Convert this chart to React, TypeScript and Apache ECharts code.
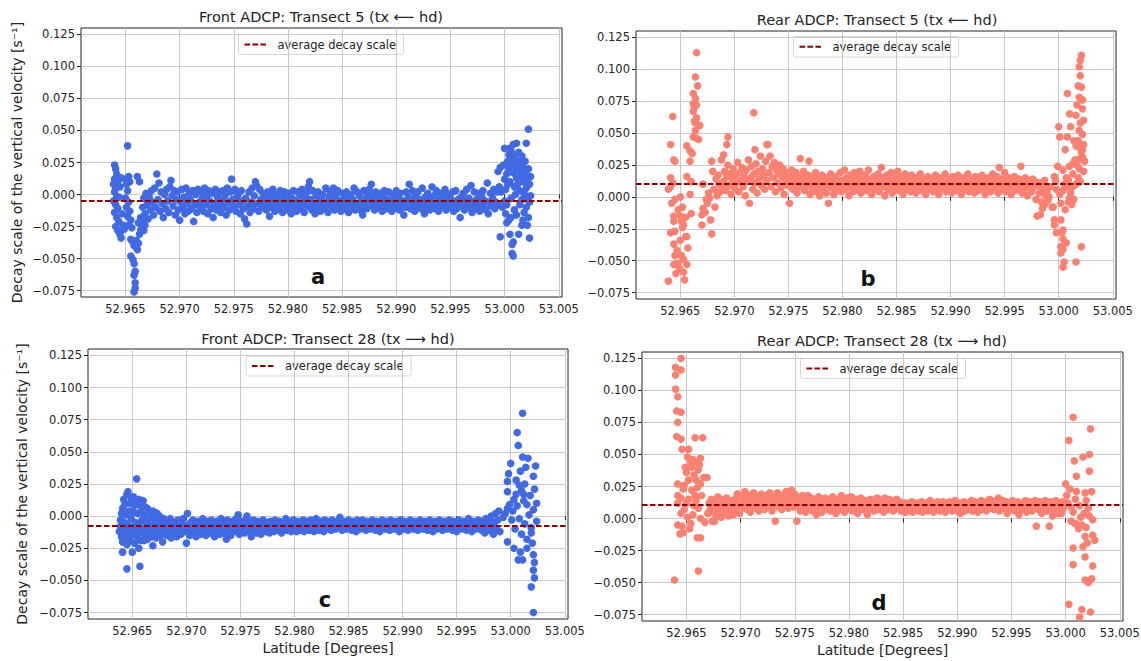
import React, { useEffect, useRef } from "react";
import * as echarts from "echarts";

const FONT = "DejaVu Sans";
const X_MIN = 52.9609;
const X_MAX = 53.0053;
const Y_MIN = -0.08;
const Y_MAX = 0.13;
const xTicks = [52.965, 52.97, 52.975, 52.98, 52.985, 52.99, 52.995, 53.0, 53.005];
const yTicks = [-0.075, -0.05, -0.025, 0, 0.025, 0.05, 0.075, 0.1, 0.125];

const titles = [
  "Front ADCP: Transect 5 (tx \u27F5 hd)",
  "Rear ADCP: Transect 5 (tx \u27F5 hd)",
  "Front ADCP: Transect 28 (tx \u27F6 hd)",
  "Rear ADCP: Transect 28 (tx \u27F6 hd)",
];
const panelLetters = ["a", "b", "c", "d"];
const averages = [-0.005, 0.0104, -0.0076, 0.0108];
const legendLabel = "average decay scale";
const yName = "Decay scale of the vertical velocity [s\u207B\u00B9]";
const xName = "Latitude [Degrees]";

// Panel a: Front ADCP, transect 5
const frontT5 = [
  [52.9640,0.023],[52.9641,0.020],[52.9642,0.016],[52.9640,0.012],[52.9639,0.008],[52.9641,0.005],[52.9643,0.010],[52.9640,0.002],[52.9642,-0.002],[52.9639,-0.005],[52.9641,-0.008],[52.9643,-0.011],[52.9640,-0.014],[52.9642,-0.018],[52.9644,-0.021],[52.9641,-0.025],[52.9643,-0.028],[52.9645,-0.031],[52.9646,-0.034],[52.9644,-0.002],[52.9645,0.006],[52.9646,0.013],[52.9647,-0.015],[52.9648,-0.024],
  [52.9652,0.038],[52.9650,0.012],[52.9651,0.008],[52.9653,0.014],[52.9654,0.010],[52.9652,0.003],[52.9650,-0.003],[52.9653,-0.006],[52.9651,-0.010],[52.9654,-0.013],[52.9652,-0.017],[52.9655,-0.020],[52.9653,-0.024],[52.9649,-0.027],[52.9656,-0.026],
  [52.9655,-0.035],[52.9657,-0.037],[52.9658,-0.040],[52.9655,-0.048],[52.9657,-0.051],[52.9658,-0.054],[52.9659,-0.060],[52.9658,-0.063],[52.9659,-0.069],[52.9659,-0.073],[52.9658,-0.076],
  [52.9660,-0.036],[52.9661,-0.043],[52.9662,-0.038],[52.9663,-0.031],[52.9664,-0.028],[52.9662,-0.022],[52.9663,0.010],[52.9661,0.014],[52.9664,-0.018],[52.9665,-0.024],[52.9666,-0.020],[52.9667,-0.028],[52.9668,-0.024],
  [52.9666,-0.010],[52.9667,-0.003],[52.9668,-0.015],[52.9669,0.001],[52.9670,-0.008],[52.9671,-0.019],[52.9672,-0.002],[52.9673,-0.012],[52.9674,0.003],[52.9675,-0.006],[52.9676,-0.016],[52.9677,0.005],[52.9678,-0.010],[52.9679,0.016],[52.9680,-0.004],[52.9681,0.009],[52.9682,-0.013],[52.9683,0.002],[52.9684,-0.007],[52.9685,-0.018],[52.9686,0.000],[52.9687,-0.011],[52.9688,0.004],[52.9689,-0.005],[52.9690,-0.014],[52.9691,0.006],[52.9692,0.011],[52.9693,-0.001],[52.9694,-0.009],[52.9695,0.003],[52.9696,-0.016],[52.9697,-0.004],[52.9698,0.002],[52.9699,-0.012],
  [52.9700,-0.020],[52.9701,-0.006],[52.9702,0.004],[52.9703,-0.010],[52.9704,-0.002],[52.9705,-0.015],[52.9706,0.005],[52.9707,-0.007],[52.9708,-0.013],[52.9709,0.001],[52.9710,-0.004],[52.9711,-0.011],[52.9712,0.003],[52.9713,-0.021],[52.9714,-0.008],[52.9715,0.000],[52.9716,-0.014],[52.9717,0.004],[52.9718,-0.006],[52.9719,-0.010],[52.9720,0.002],[52.9721,-0.003],[52.9722,-0.013],[52.9723,0.005],[52.9724,-0.008],[52.9725,-0.001],[52.9726,-0.015],[52.9727,0.003],[52.9728,-0.005],[52.9729,-0.011],[52.9730,0.001],[52.9731,-0.018],[52.9732,-0.007],[52.9733,0.004],[52.9734,-0.012],[52.9735,-0.002],[52.9736,-0.009],[52.9737,0.002],[52.9738,-0.014],[52.9739,-0.005],[52.9740,0.003],[52.9741,-0.010],[52.9742,-0.001],[52.9743,-0.016],[52.9744,0.005],[52.9745,-0.006],[52.9746,-0.012],[52.9747,0.002],[52.9748,0.012],[52.9749,-0.004],
  [52.9750,-0.009],[52.9751,0.004],[52.9752,-0.013],[52.9753,-0.002],[52.9754,0.000],[52.9755,-0.008],[52.9756,-0.015],[52.9757,0.003],[52.9758,-0.005],[52.9759,-0.011],[52.9760,-0.019],[52.9761,-0.003],[52.9762,-0.023],[52.9763,-0.009],[52.9764,0.002],[52.9765,-0.014],[52.9766,-0.006],[52.9767,0.005],[52.9768,-0.011],[52.9769,-0.001],[52.9770,0.010],[52.9771,0.007],[52.9772,-0.007],[52.9773,-0.013],[52.9774,0.004],[52.9775,-0.004],[52.9776,-0.010],[52.9777,0.001],[52.9778,-0.008],[52.9779,-0.003],[52.9780,-0.012],[52.9781,0.002],[52.9782,-0.006],[52.9783,-0.017],[52.9784,-0.001],[52.9785,-0.010],[52.9786,0.004],[52.9787,-0.005],[52.9788,-0.013],[52.9789,0.000],[52.9790,-0.008],[52.9791,-0.003],[52.9792,-0.011],[52.9793,0.003],[52.9794,-0.006],[52.9795,-0.014],[52.9796,-0.002],[52.9797,0.002],[52.9798,-0.009],[52.9799,-0.004],
  [52.9800,-0.012],[52.9801,0.001],[52.9802,-0.007],[52.9803,-0.015],[52.9804,-0.003],[52.9805,0.003],[52.9806,-0.010],[52.9807,-0.005],[52.9808,-0.013],[52.9809,0.002],[52.9810,-0.008],[52.9811,-0.001],[52.9812,-0.011],[52.9813,0.004],[52.9814,-0.006],[52.9815,-0.014],[52.9816,-0.002],[52.9817,0.001],[52.9818,-0.009],[52.9819,0.006],[52.9820,0.010],[52.9821,-0.004],[52.9822,-0.012],[52.9823,0.003],[52.9824,-0.007],[52.9825,-0.015],[52.9826,-0.001],[52.9827,-0.010],[52.9828,0.002],[52.9829,-0.005],[52.9830,-0.013],[52.9831,-0.003],[52.9832,0.000],[52.9833,-0.008],[52.9834,-0.011],[52.9835,0.005],[52.9836,-0.006],[52.9837,-0.014],[52.9838,-0.002],[52.9839,0.002],[52.9840,-0.009],[52.9841,-0.004],[52.9842,0.005],[52.9843,-0.012],[52.9844,-0.001],[52.9845,-0.007],[52.9846,0.003],[52.9847,-0.010],[52.9848,-0.005],[52.9849,-0.013],
  [52.9850,0.001],[52.9851,-0.008],[52.9852,-0.003],[52.9853,-0.011],[52.9854,0.002],[52.9855,-0.006],[52.9856,-0.014],[52.9857,-0.002],[52.9858,0.000],[52.9859,-0.009],[52.9860,-0.004],[52.9861,0.005],[52.9862,-0.012],[52.9863,-0.007],[52.9864,0.002],[52.9865,-0.010],[52.9866,-0.001],[52.9867,-0.006],[52.9868,-0.013],[52.9869,-0.016],[52.9870,0.003],[52.9871,-0.008],[52.9872,-0.003],[52.9873,-0.011],[52.9874,0.001],[52.9875,0.004],[52.9876,-0.005],[52.9877,0.008],[52.9878,-0.009],[52.9879,-0.002],[52.9880,-0.012],[52.9881,0.002],[52.9882,-0.007],[52.9883,-0.004],[52.9884,-0.010],[52.9885,0.001],[52.9886,-0.006],[52.9887,-0.013],[52.9888,-0.002],[52.9889,0.003],[52.9890,-0.008],[52.9891,-0.011],[52.9892,-0.004],[52.9893,0.002],[52.9894,-0.009],[52.9895,-0.006],[52.9896,-0.013],[52.9897,0.000],[52.9898,-0.005],[52.9899,-0.010],
  [52.9900,0.003],[52.9901,-0.007],[52.9902,-0.003],[52.9903,-0.012],[52.9904,0.001],[52.9905,-0.008],[52.9906,-0.005],[52.9907,-0.016],[52.9908,-0.010],[52.9909,0.002],[52.9910,-0.006],[52.9911,-0.002],[52.9912,0.008],[52.9913,-0.011],[52.9914,-0.004],[52.9915,0.003],[52.9916,-0.008],[52.9917,-0.013],[52.9918,-0.001],[52.9919,-0.006],[52.9920,0.002],[52.9921,-0.009],[52.9922,-0.004],[52.9923,-0.011],[52.9924,0.005],[52.9925,-0.007],[52.9926,-0.015],[52.9927,-0.002],[52.9928,-0.010],[52.9929,0.001],[52.9930,-0.005],[52.9931,-0.012],[52.9932,-0.003],[52.9933,0.006],[52.9934,-0.008],[52.9935,-0.001],[52.9936,-0.011],[52.9937,0.003],[52.9938,-0.006],[52.9939,-0.013],[52.9940,-0.004],[52.9941,0.001],[52.9942,-0.009],[52.9943,-0.002],[52.9944,-0.007],[52.9945,0.004],[52.9946,-0.012],[52.9947,-0.005],[52.9948,0.000],[52.9949,-0.010],
  [52.9950,-0.003],[52.9951,-0.008],[52.9952,0.002],[52.9953,-0.013],[52.9954,-0.006],[52.9955,0.003],[52.9956,-0.011],[52.9957,-0.004],[52.9958,-0.009],[52.9959,-0.018],[52.9960,-0.002],[52.9961,-0.007],[52.9962,0.001],[52.9963,-0.012],[52.9964,-0.005],[52.9965,0.004],[52.9966,-0.010],[52.9967,-0.003],[52.9968,-0.008],[52.9969,0.007],[52.9970,-0.014],[52.9971,-0.006],[52.9972,0.002],[52.9973,-0.011],[52.9974,-0.004],[52.9975,-0.009],[52.9976,0.001],[52.9977,-0.013],[52.9978,-0.007],[52.9979,-0.002],[52.9980,0.003],[52.9981,-0.010],[52.9982,-0.005],[52.9983,-0.012],[52.9984,0.009],[52.9985,-0.015],[52.9986,-0.006],[52.9987,0.001],[52.9988,-0.009],[52.9989,-0.003],[52.9990,0.004],[52.9991,-0.011],[52.9992,-0.006],[52.9993,0.002],[52.9994,-0.008],[52.9995,0.006],
  [52.9994,0.018],[52.9996,0.021],[52.9999,0.023],[53.0000,0.012],[53.0001,0.004],[53.0002,-0.008],[53.0002,0.016],[53.0003,0.026],[53.0004,0.020],[53.0005,0.036],[53.0005,0.010],[53.0006,-0.003],[53.0006,0.024],[53.0007,0.028],[53.0007,-0.046],[53.0008,0.039],[53.0008,-0.037],[53.0008,-0.048],[53.0008,0.017],[53.0009,0.006],[53.0009,-0.012],[53.0010,0.022],[53.0010,0.000],[53.0011,0.013],[53.0011,-0.016],[53.0012,0.026],[53.0012,0.008],[53.0013,-0.031],[53.0013,0.019],[53.0014,0.003],[53.0014,-0.008],[53.0015,0.024],[53.0015,0.014],[53.0016,0.030],[53.0016,-0.024],[53.0016,-0.004],[53.0017,0.010],[53.0017,0.021],[53.0018,0.001],[53.0018,-0.014],[53.0019,0.017],[53.0019,0.026],[53.0020,0.040],[53.0020,0.005],[53.0020,-0.010],[53.0021,0.012],[53.0021,-0.002],[53.0022,0.051],[53.0022,-0.018],[53.0022,0.020],[53.0023,-0.034],[53.0023,-0.006],[53.0023,0.008],[53.0024,-0.001],[52.9996,-0.033],[53.0002,-0.022],[53.0005,-0.031],[53.0007,-0.039],[53.0004,-0.020],[52.9998,-0.010],[53.0000,-0.005],[53.0003,0.008],[53.0006,-0.018],[53.0009,0.030],[53.0004,0.031],[53.0013,0.033],[53.0017,-0.020],[53.0021,-0.024],[53.0024,0.014],[53.0000,0.036],[53.0006,0.034],[53.0011,0.040],[52.9997,0.002],[53.0001,-0.015],
];

// Panel b: Rear ADCP, transect 5
const rearT5 = [
  [52.9665,0.113],[52.9664,0.094],[52.9666,0.087],[52.9662,0.081],[52.9664,0.077],[52.9662,0.073],[52.9665,0.072],[52.9663,0.070],[52.9665,0.062],[52.9664,0.058],[52.9668,0.056],[52.9643,0.063],[52.9718,0.066],[52.9662,0.047],[52.9667,0.045],[52.9665,0.046],[52.9641,0.041],[52.9656,0.040],[52.9659,0.036],[52.9661,0.034],[52.9659,0.028],[52.9644,0.029],[52.9645,0.028],[52.9679,0.028],[52.9694,0.047],[52.9693,0.041],[52.9719,0.037],[52.9730,0.041],[52.9641,0.015],[52.9643,0.011],[52.9639,0.006],[52.9641,0.008],[52.9656,0.016],[52.9660,0.012],[52.9671,0.010],[52.9659,0.002],[52.9642,-0.005],[52.9645,-0.002],[52.9650,0.000],[52.9644,-0.015],[52.9644,-0.019],[52.9648,-0.010],[52.9650,-0.015],[52.9651,-0.019],[52.9655,-0.016],[52.9653,-0.022],[52.9660,-0.013],[52.9641,-0.028],[52.9645,-0.027],[52.9644,-0.037],[52.9655,-0.031],[52.9656,-0.031],[52.9657,-0.040],[52.9645,-0.046],[52.9651,-0.046],[52.9653,-0.049],[52.9644,-0.053],[52.9648,-0.052],[52.9656,-0.053],[52.9646,-0.060],[52.9653,-0.059],[52.9639,-0.066],[52.9654,-0.065],[52.9670,-0.022],[52.9679,-0.029],[52.9670,-0.014],[52.9671,-0.009],[52.9675,-0.005],[52.9677,-0.001],[52.9676,0.003],[52.9681,0.006],[52.9684,0.001],[52.9687,0.004],[52.9689,0.008],[52.9688,0.029],[52.9690,0.033],[52.9652,-0.024],[52.9650,-0.034],[52.9647,-0.042],[52.9649,-0.056],[52.9652,-0.008],[52.9673,-0.012],[52.9678,-0.018],[52.9682,-0.008],[52.9674,-0.002],[52.9686,0.010],[52.9683,0.014],[52.9680,0.020],[52.9685,0.017],[52.9662,0.067],[52.9663,0.059],[52.9664,0.052],
  [52.9690,0.012],[52.9691,0.020],[52.9692,0.005],[52.9693,0.016],[52.9694,0.025],[52.9695,0.009],[52.9696,0.018],[52.9697,0.002],[52.9698,0.014],[52.9699,0.022],[52.9700,0.007],[52.9701,0.017],[52.9702,0.011],[52.9703,0.027],[52.9704,0.004],[52.9705,0.019],[52.9706,0.013],[52.9707,0.023],[52.9708,0.008],[52.9709,0.016],[52.9710,0.001],[52.9711,0.021],[52.9712,0.012],[52.9713,0.029],[52.9714,-0.005],[52.9715,0.015],[52.9716,0.024],[52.9717,0.006],[52.9718,0.018],[52.9719,0.011],[52.9720,0.026],[52.9721,0.003],[52.9722,0.020],[52.9723,0.014],[52.9724,0.032],[52.9725,0.009],[52.9726,0.022],[52.9727,0.017],[52.9728,0.006],[52.9729,0.028],[52.9730,0.013],[52.9731,0.041],[52.9732,0.019],[52.9733,0.032],[52.9734,0.008],[52.9735,0.024],[52.9736,0.015],[52.9737,0.027],[52.9738,0.004],[52.9739,0.021],
  [52.9740,0.011],[52.9741,0.018],[52.9742,0.025],[52.9743,0.007],[52.9744,0.016],[52.9745,0.022],[52.9746,0.002],[52.9747,0.013],[52.9748,0.019],[52.9749,0.009],[52.9750,0.017],[52.9751,-0.005],[52.9752,0.012],[52.9753,0.021],[52.9754,0.006],[52.9755,0.015],[52.9756,0.010],[52.9757,0.019],[52.9758,0.003],[52.9759,0.014],[52.9760,0.008],[52.9761,0.030],[52.9762,0.016],[52.9763,0.011],[52.9764,0.020],[52.9765,0.005],[52.9766,0.013],[52.9767,0.009],[52.9768,0.017],[52.9769,0.028],[52.9770,0.002],[52.9771,0.012],[52.9772,0.007],[52.9773,0.016],[52.9774,0.010],[52.9775,0.019],[52.9776,0.004],[52.9777,0.014],[52.9778,0.008],[52.9779,0.001],[52.9780,0.013],[52.9781,0.017],[52.9782,0.006],[52.9783,0.011],[52.9784,0.015],[52.9785,0.003],[52.9786,0.009],[52.9787,-0.005],[52.9788,0.012],[52.9789,0.018],
  [52.9790,0.007],[52.9791,0.014],[52.9792,0.002],[52.9793,0.010],[52.9794,0.016],[52.9795,0.005],[52.9796,0.012],[52.9797,0.008],[52.9798,0.019],[52.9799,0.004],[52.9800,0.013],[52.9801,0.009],[52.9802,0.021],[52.9803,0.006],[52.9804,0.015],[52.9805,0.011],[52.9806,0.001],[52.9807,0.017],[52.9808,0.008],[52.9809,0.013],[52.9810,0.004],[52.9811,0.019],[52.9812,0.010],[52.9813,0.006],[52.9814,0.015],[52.9815,0.011],[52.9816,0.020],[52.9817,0.003],[52.9818,0.014],[52.9819,0.008],[52.9820,0.012],[52.9821,0.017],[52.9822,0.005],[52.9823,0.010],[52.9824,0.021],[52.9825,0.007],[52.9826,0.014],[52.9827,0.002],[52.9828,0.011],[52.9829,0.016],[52.9830,0.006],[52.9831,0.013],[52.9832,0.009],[52.9833,0.018],[52.9834,0.004],[52.9835,0.012],[52.9836,0.023],[52.9837,0.008],[52.9838,0.015],[52.9839,0.001],
  [52.9840,0.011],[52.9841,0.017],[52.9842,0.006],[52.9843,0.013],[52.9844,0.009],[52.9845,0.019],[52.9846,0.003],[52.9847,0.012],[52.9848,0.007],[52.9849,0.015],[52.9850,0.010],[52.9851,0.020],[52.9852,0.005],[52.9853,0.013],[52.9854,0.008],[52.9855,0.016],[52.9856,0.002],[52.9857,0.011],[52.9858,0.018],[52.9859,0.006],[52.9860,0.014],[52.9861,0.009],[52.9862,0.012],[52.9863,0.004],[52.9864,0.017],[52.9865,0.008],[52.9866,0.013],[52.9867,0.010],[52.9868,0.003],[52.9869,0.015],[52.9870,0.007],[52.9871,0.012],[52.9872,0.018],[52.9873,0.005],[52.9874,0.011],[52.9875,0.009],[52.9876,0.014],[52.9877,0.002],[52.9878,0.010],[52.9879,0.016],[52.9880,0.006],[52.9881,0.012],[52.9882,0.008],[52.9883,0.014],[52.9884,0.004],[52.9885,0.011],[52.9886,0.017],[52.9887,0.007],[52.9888,0.013],[52.9889,0.002],
  [52.9890,0.010],[52.9891,0.015],[52.9892,0.006],[52.9893,0.012],[52.9894,0.009],[52.9895,0.018],[52.9896,0.004],[52.9897,0.011],[52.9898,0.007],[52.9899,0.014],[52.9900,0.010],[52.9901,0.003],[52.9902,0.016],[52.9903,0.008],[52.9904,0.012],[52.9905,0.005],[52.9906,0.011],[52.9907,0.017],[52.9908,0.007],[52.9909,0.013],[52.9910,0.002],[52.9911,0.010],[52.9912,0.015],[52.9913,0.006],[52.9914,0.012],[52.9915,0.009],[52.9916,0.018],[52.9917,0.004],[52.9918,0.011],[52.9919,0.007],[52.9920,0.014],[52.9921,0.010],[52.9922,0.003],[52.9923,0.016],[52.9924,0.008],[52.9925,0.012],[52.9926,0.005],[52.9927,0.014],[52.9928,0.009],[52.9929,0.017],[52.9930,0.006],[52.9931,0.011],[52.9932,0.002],[52.9933,0.013],[52.9934,0.008],[52.9935,0.015],[52.9936,0.010],[52.9937,0.004],[52.9938,0.012],[52.9939,0.018],
  [52.9940,0.007],[52.9941,0.013],[52.9942,0.009],[52.9943,0.016],[52.9944,0.003],[52.9945,0.023],[52.9946,0.011],[52.9947,0.006],[52.9948,0.014],[52.9949,0.009],[52.9950,0.019],[52.9951,0.004],[52.9952,0.012],[52.9953,0.007],[52.9954,0.015],[52.9955,0.010],[52.9956,0.002],[52.9957,0.013],[52.9958,0.008],[52.9959,0.016],[52.9960,0.005],[52.9961,0.011],[52.9962,0.007],[52.9963,0.014],[52.9964,0.009],[52.9965,0.024],[52.9966,0.003],[52.9967,0.012],[52.9968,0.006],[52.9969,0.015],[52.9970,0.010],[52.9971,0.001],[52.9972,0.013],[52.9973,0.007],[52.9974,0.011],[52.9975,0.004],[52.9976,0.014],[52.9977,0.008],[52.9978,0.012],[52.9979,-0.002],[52.9980,-0.015],[52.9981,0.009],[52.9982,0.003],[52.9983,0.011],[52.9984,-0.004],[52.9985,-0.009],[52.9986,0.006],[52.9987,0.013],[52.9988,0.001],[52.9989,0.008],[52.9990,-0.003],
  [53.0021,0.111],[53.0020,0.107],[53.0019,0.102],[53.0018,0.087],[53.0021,0.086],[53.0008,0.081],[53.0019,0.078],[53.0022,0.076],[53.0022,0.069],[53.0010,0.065],[53.0016,0.064],[53.0000,0.055],[53.0001,0.047],[53.0011,0.055],[53.0019,0.052],[53.0008,0.047],[53.0014,0.044],[53.0022,0.049],[53.0018,0.044],[53.0023,0.041],[53.0006,0.037],[53.0019,0.039],[53.0021,0.035],[53.0013,0.026],[53.0022,0.031],[53.0015,0.029],[53.0024,0.028],[52.9996,0.016],[53.0004,0.021],[53.0010,0.024],[53.0019,0.022],[52.9999,0.024],[53.0013,0.018],[53.0018,0.015],[53.0009,0.013],[53.0013,0.008],[53.0004,0.005],[53.0011,0.003],[53.0008,0.008],[53.0014,-0.002],[53.0010,-0.001],[53.0012,-0.006],[53.0002,-0.005],[52.9987,-0.006],[52.9983,-0.014],[52.9995,-0.008],[52.9996,-0.018],[52.9996,-0.022],[52.9998,-0.028],[53.0002,-0.018],[53.0004,-0.026],[53.0004,-0.033],[53.0004,-0.041],[53.0002,-0.044],[53.0005,-0.051],[53.0004,-0.055],[53.0016,-0.051],[53.0021,-0.039],[52.9994,-0.008],[53.0003,-0.028],[53.0002,-0.039],[53.0007,-0.036],[53.0020,0.095],[53.0017,0.072],[53.0023,0.060],[53.0020,0.058],[53.0016,0.040],[53.0022,0.037],[53.0020,0.030],[53.0017,0.025],[53.0023,0.020],[53.0016,0.010],[53.0020,0.012],[53.0007,0.015],[53.0005,0.010],[52.9998,0.006],[53.0001,0.002],[52.9992,0.008],[52.9997,0.013],[53.0006,-0.010],[53.0009,-0.004],[52.9991,0.000],[52.9989,0.004],
];

// Panel c: Front ADCP, transect 28
const frontT28 = [
  [52.9638,-0.012],[52.9639,-0.008],[52.9639,-0.003],[52.9640,-0.016],[52.9640,0.002],[52.9641,-0.020],[52.9641,0.006],[52.9641,-0.028],[52.9642,0.013],[52.9642,-0.010],[52.9643,-0.005],[52.9643,-0.018],[52.9643,0.009],[52.9644,-0.013],[52.9644,0.001],[52.9645,-0.041],[52.9645,-0.022],[52.9645,0.017],[52.9646,0.019],[52.9646,-0.007],[52.9646,-0.015],[52.9647,0.004],[52.9647,-0.011],[52.9648,0.010],[52.9648,-0.019],[52.9649,-0.002],[52.9649,0.014],[52.9650,-0.028],[52.9650,-0.009],[52.9651,0.015],[52.9651,-0.014],[52.9651,0.003],[52.9652,-0.021],[52.9652,0.008],[52.9653,-0.005],[52.9653,0.011],[52.9654,0.029],[52.9654,-0.012],[52.9655,0.002],[52.9655,-0.017],[52.9656,0.013],[52.9656,-0.025],[52.9656,-0.007],[52.9657,0.009],[52.9657,-0.039],[52.9657,-0.013],[52.9658,0.004],[52.9658,-0.019],[52.9659,-0.003],[52.9659,0.010],[52.9660,0.012],[52.9660,-0.010],[52.9661,-0.019],[52.9661,0.001],[52.9662,-0.015],[52.9662,0.007],[52.9663,-0.006],[52.9663,-0.012],[52.9664,0.006],[52.9664,-0.018],[52.9665,-0.002],[52.9665,-0.010],[52.9666,0.004],[52.9666,-0.014],[52.9667,-0.007],[52.9668,-0.016],[52.9668,0.002],[52.9669,-0.023],[52.9669,0.004],[52.9670,-0.009],[52.9670,-0.002],[52.9671,-0.013],[52.9671,0.003],[52.9672,-0.017],[52.9673,-0.005],[52.9673,0.002],[52.9674,-0.011],[52.9675,-0.015],[52.9675,0.000],[52.9676,-0.008],[52.9677,-0.003],[52.9677,-0.012],[52.9678,-0.020],[52.9678,-0.006],[52.9679,-0.014],[52.9679,-0.002],
  [52.9680,-0.010],[52.9681,-0.004],[52.9682,-0.015],[52.9683,-0.007],[52.9684,-0.012],[52.9685,-0.002],[52.9686,-0.017],[52.9687,-0.009],[52.9688,-0.005],[52.9689,-0.013],[52.9690,-0.008],[52.9691,-0.016],[52.9692,-0.003],[52.9693,-0.011],[52.9694,-0.006],[52.9695,-0.014],[52.9696,-0.009],[52.9697,-0.002],[52.9698,-0.012],[52.9699,-0.007],[52.9700,-0.021],[52.9701,0.002],[52.9702,-0.010],[52.9703,-0.015],[52.9704,-0.005],[52.9705,-0.011],[52.9706,-0.003],[52.9707,-0.013],[52.9708,-0.008],[52.9709,-0.016],[52.9710,-0.004],[52.9711,-0.010],[52.9712,-0.006],[52.9713,-0.014],[52.9714,-0.009],[52.9715,-0.002],[52.9716,-0.012],[52.9717,-0.007],[52.9718,-0.015],[52.9719,-0.004],[52.9720,-0.011],[52.9721,-0.008],[52.9722,-0.013],[52.9723,-0.003],[52.9724,-0.010],[52.9725,-0.006],[52.9726,-0.016],[52.9727,-0.009],[52.9728,-0.004],[52.9729,-0.012],
  [52.9730,-0.007],[52.9731,-0.014],[52.9732,-0.002],[52.9733,-0.010],[52.9734,-0.005],[52.9735,-0.013],[52.9736,-0.008],[52.9737,-0.018],[52.9738,-0.003],[52.9739,-0.011],[52.9740,-0.006],[52.9741,-0.015],[52.9742,-0.009],[52.9743,-0.004],[52.9744,-0.012],[52.9745,-0.007],[52.9746,-0.002],[52.9747,-0.010],[52.9748,0.001],[52.9749,-0.014],[52.9750,-0.006],[52.9751,-0.011],[52.9752,-0.004],[52.9753,-0.009],[52.9754,-0.013],[52.9755,-0.003],[52.9756,0.000],[52.9757,-0.008],[52.9758,-0.012],[52.9759,-0.005],[52.9760,-0.016],[52.9761,-0.009],[52.9762,-0.003],[52.9763,-0.011],[52.9764,-0.007],[52.9765,-0.013],[52.9766,-0.004],[52.9767,-0.010],[52.9768,-0.006],[52.9769,-0.014],[52.9770,-0.008],[52.9771,-0.003],[52.9772,-0.011],[52.9773,-0.007],[52.9774,-0.012],[52.9775,-0.005],[52.9776,-0.009],[52.9777,-0.013],[52.9778,-0.004],[52.9779,-0.010],
  [52.9780,-0.007],[52.9781,-0.012],[52.9782,-0.003],[52.9783,-0.009],[52.9784,-0.006],[52.9785,-0.011],[52.9786,-0.004],[52.9787,-0.008],[52.9788,-0.013],[52.9789,-0.005],[52.9790,-0.010],[52.9791,-0.007],[52.9792,-0.002],[52.9793,-0.011],[52.9794,-0.006],[52.9795,-0.009],[52.9796,-0.004],[52.9797,-0.012],[52.9798,-0.007],[52.9799,-0.003],[52.9800,-0.010],[52.9801,-0.006],[52.9802,-0.012],[52.9803,-0.004],[52.9804,-0.008],[52.9805,-0.011],[52.9806,-0.005],[52.9807,-0.009],[52.9808,-0.003],[52.9809,-0.012],[52.9810,-0.007],[52.9811,-0.004],[52.9812,-0.010],[52.9813,-0.006],[52.9814,-0.011],[52.9815,-0.003],[52.9816,-0.008],[52.9817,-0.005],[52.9818,-0.012],[52.9819,-0.007],[52.9820,-0.002],[52.9821,-0.009],[52.9822,-0.005],[52.9823,-0.011],[52.9824,-0.004],[52.9825,-0.008],[52.9826,-0.006],[52.9827,-0.012],[52.9828,-0.003],[52.9829,-0.009],
  [52.9830,-0.007],[52.9831,-0.004],[52.9832,-0.010],[52.9833,-0.006],[52.9834,-0.011],[52.9835,-0.003],[52.9836,-0.008],[52.9837,-0.005],[52.9838,-0.010],[52.9839,-0.007],[52.9840,-0.004],[52.9841,-0.009],[52.9842,-0.001],[52.9843,-0.006],[52.9844,-0.011],[52.9845,-0.004],[52.9846,-0.008],[52.9847,-0.005],[52.9848,-0.010],[52.9849,-0.007],[52.9850,-0.003],[52.9851,-0.009],[52.9852,-0.006],[52.9853,-0.011],[52.9854,-0.004],[52.9855,-0.008],[52.9856,-0.006],[52.9857,-0.012],[52.9858,-0.003],[52.9859,-0.009],[52.9860,-0.005],[52.9861,-0.010],[52.9862,-0.007],[52.9863,-0.003],[52.9864,-0.009],[52.9865,-0.006],[52.9866,-0.011],[52.9867,-0.004],[52.9868,-0.008],[52.9869,-0.005],[52.9870,-0.010],[52.9871,-0.007],[52.9872,-0.003],[52.9873,-0.009],[52.9874,-0.006],[52.9875,-0.011],[52.9876,-0.004],[52.9877,-0.008],[52.9878,-0.005],[52.9879,-0.012],
  [52.9880,-0.007],[52.9881,-0.003],[52.9882,-0.009],[52.9883,-0.006],[52.9884,-0.010],[52.9885,-0.004],[52.9886,-0.008],[52.9887,-0.006],[52.9888,-0.011],[52.9889,-0.003],[52.9890,-0.009],[52.9891,-0.005],[52.9892,-0.010],[52.9893,-0.007],[52.9894,-0.004],[52.9895,-0.008],[52.9896,-0.006],[52.9897,-0.012],[52.9898,-0.003],[52.9899,-0.009],[52.9900,-0.006],[52.9901,-0.010],[52.9902,-0.004],[52.9903,-0.008],[52.9904,-0.005],[52.9905,-0.011],[52.9906,-0.007],[52.9907,-0.003],[52.9908,-0.009],[52.9909,-0.006],[52.9910,-0.010],[52.9911,-0.004],[52.9912,-0.008],[52.9913,-0.005],[52.9914,-0.011],[52.9915,-0.007],[52.9916,-0.003],[52.9917,-0.009],[52.9918,-0.006],[52.9919,-0.010],[52.9920,-0.004],[52.9921,-0.008],[52.9922,-0.005],[52.9923,-0.011],[52.9924,-0.007],[52.9925,-0.003],[52.9926,-0.009],[52.9927,-0.006],[52.9928,-0.012],[52.9929,-0.004],
  [52.9930,-0.008],[52.9931,-0.005],[52.9932,-0.010],[52.9933,-0.007],[52.9934,-0.003],[52.9935,-0.009],[52.9936,-0.006],[52.9937,-0.011],[52.9938,-0.004],[52.9939,-0.008],[52.9940,-0.005],[52.9941,-0.010],[52.9942,-0.007],[52.9943,-0.003],[52.9944,-0.009],[52.9945,-0.006],[52.9946,-0.011],[52.9947,-0.004],[52.9948,-0.008],[52.9949,-0.005],[52.9950,-0.012],[52.9951,-0.007],[52.9952,-0.003],[52.9953,-0.009],[52.9954,-0.006],[52.9955,-0.010],[52.9956,-0.004],[52.9957,-0.008],[52.9958,-0.005],[52.9959,-0.011],[52.9960,-0.007],[52.9961,-0.002],[52.9962,-0.009],[52.9963,-0.006],[52.9964,-0.012],[52.9965,-0.004],[52.9966,-0.008],[52.9967,-0.005],[52.9968,-0.010],[52.9969,-0.007],[52.9970,-0.003],[52.9971,-0.009],[52.9972,-0.006],[52.9973,-0.011],[52.9974,-0.004],[52.9975,-0.008],[52.9976,-0.013],[52.9977,-0.002],[52.9978,-0.009],[52.9979,-0.006],
  [52.9980,-0.011],[52.9981,-0.004],[52.9982,0.000],[52.9983,-0.008],[52.9984,-0.014],[52.9985,-0.005],[52.9986,0.002],[52.9987,-0.010],[52.9988,-0.003],[52.9989,0.004],[52.9990,-0.012],
  [53.0011,0.080],[53.0006,0.065],[53.0007,0.055],[53.0000,0.041],[53.0011,0.046],[53.0016,0.045],[52.9998,0.033],[53.0023,0.039],[53.0021,0.031],[52.9997,0.027],[53.0010,0.020],[53.0022,0.021],[52.9997,0.019],[53.0003,0.013],[53.0015,0.009],[53.0021,0.005],[52.9997,0.006],[53.0008,-0.002],[53.0024,-0.004],[52.9997,-0.020],[53.0003,-0.025],[53.0015,-0.025],[53.0007,-0.034],[53.0011,-0.034],[53.0021,-0.030],[53.0022,-0.036],[53.0021,-0.042],[53.0022,-0.048],[53.0019,-0.055],[53.0021,-0.075],[53.0015,-0.018],[53.0019,-0.013],[53.0005,0.028],[53.0009,0.035],[53.0013,0.025],[53.0018,0.016],[53.0002,0.004],[53.0012,0.012],[53.0006,0.008],[53.0017,0.001],[53.0013,-0.006],[53.0019,-0.009],[53.0004,-0.010],[53.0010,-0.014],[53.0001,-0.003],[53.0014,0.038],[53.0008,0.024],[52.9995,0.002],[52.9993,-0.001],[53.0024,0.010],[53.0020,-0.021],[53.0009,-0.028],[53.0012,0.017],[53.0005,0.017],[52.9999,0.009],
];

// Panel d: Rear ADCP, transect 28
const rearT28 = [
  [52.9645,0.125],[52.9640,0.118],[52.9645,0.116],[52.9640,0.112],[52.9640,0.101],[52.9642,0.095],[52.9641,0.084],[52.9645,0.083],[52.9642,0.075],[52.9641,0.064],[52.9645,0.062],[52.9646,0.054],[52.9652,0.054],[52.9658,0.063],[52.9665,0.063],[52.9663,0.047],[52.9660,0.044],[52.9654,0.044],[52.9649,0.040],[52.9666,0.032],[52.9669,0.032],[52.9657,0.034],[52.9663,0.027],[52.9642,0.027],[52.9647,0.023],[52.9664,0.018],[52.9642,0.018],[52.9650,0.012],[52.9642,0.012],[52.9645,0.004],[52.9656,0.003],[52.9642,-0.005],[52.9644,-0.012],[52.9647,-0.011],[52.9654,-0.004],[52.9660,-0.015],[52.9663,-0.015],[52.9661,-0.041],[52.9639,-0.048],[52.9667,-0.003],[52.9670,0.004],[52.9675,0.007],[52.9678,0.010],[52.9681,0.015],[52.9676,-0.002],[52.9693,0.003],[52.9697,0.019],[52.9650,0.036],[52.9655,0.040],[52.9661,0.038],[52.9659,0.030],[52.9652,0.030],[52.9648,0.026],[52.9655,0.022],[52.9660,0.024],[52.9652,0.015],[52.9657,0.010],[52.9661,0.008],[52.9645,0.016],[52.9648,0.007],[52.9651,0.001],[52.9646,-0.006],[52.9658,0.018],[52.9662,0.042],[52.9656,0.046],[52.9651,0.048],[52.9659,0.014],[52.9663,0.000],[52.9653,-0.008],
  [52.9670,0.004],[52.9671,0.012],[52.9672,0.007],[52.9673,0.015],[52.9674,-0.002],[52.9675,0.009],[52.9676,0.013],[52.9677,0.003],[52.9678,0.010],[52.9679,0.017],[52.9680,0.006],[52.9681,0.012],[52.9682,0.001],[52.9683,0.014],[52.9684,0.008],[52.9685,0.011],[52.9686,0.004],[52.9687,0.016],[52.9688,0.009],[52.9689,0.002],[52.9690,0.012],[52.9691,0.007],[52.9692,0.014],[52.9693,0.003],[52.9694,0.010],[52.9695,0.015],[52.9696,0.006],[52.9697,0.019],[52.9698,0.011],[52.9699,0.004],[52.9700,0.013],[52.9701,0.008],[52.9702,0.017],[52.9703,0.010],[52.9704,0.021],[52.9705,0.014],[52.9706,0.007],[52.9707,0.018],[52.9708,0.012],[52.9709,0.005],[52.9710,0.016],[52.9711,0.010],[52.9712,0.020],[52.9713,0.013],[52.9714,0.008],[52.9715,0.017],[52.9716,0.011],[52.9717,0.006],[52.9718,0.015],[52.9719,0.019],
  [52.9720,0.010],[52.9721,0.014],[52.9722,0.007],[52.9723,0.018],[52.9724,0.012],[52.9725,0.016],[52.9726,0.009],[52.9727,0.020],[52.9728,0.013],[52.9729,0.006],[52.9730,0.017],[52.9731,0.011],[52.9732,-0.002],[52.9733,0.015],[52.9734,0.020],[52.9735,0.009],[52.9736,0.013],[52.9737,0.018],[52.9738,0.007],[52.9739,0.012],[52.9740,0.016],[52.9741,0.010],[52.9742,0.021],[52.9743,0.014],[52.9744,0.008],[52.9745,0.017],[52.9746,0.011],[52.9747,0.022],[52.9748,0.015],[52.9749,0.009],[52.9750,0.019],[52.9751,0.013],[52.9752,-0.002],[52.9753,0.010],[52.9754,0.016],[52.9755,0.006],[52.9756,0.012],[52.9757,0.018],[52.9758,0.009],[52.9759,0.014],[52.9760,0.005],[52.9761,0.011],[52.9762,0.018],[52.9763,0.008],[52.9764,0.013],[52.9765,0.016],[52.9766,0.006],[52.9767,0.012],[52.9768,0.009],[52.9769,0.015],
  [52.9770,0.003],[52.9771,0.011],[52.9772,0.017],[52.9773,0.008],[52.9774,0.013],[52.9775,0.005],[52.9776,0.014],[52.9777,0.010],[52.9778,0.016],[52.9779,0.007],[52.9780,0.012],[52.9781,0.009],[52.9782,0.015],[52.9783,0.006],[52.9784,0.011],[52.9785,0.017],[52.9786,0.008],[52.9787,0.013],[52.9788,0.004],[52.9789,0.010],[52.9790,0.015],[52.9791,0.007],[52.9792,0.012],[52.9793,0.018],[52.9794,0.009],[52.9795,0.014],[52.9796,0.005],[52.9797,0.011],[52.9798,0.016],[52.9799,0.008],[52.9800,0.013],[52.9801,0.010],[52.9802,0.017],[52.9803,0.006],[52.9804,0.012],[52.9805,0.008],[52.9806,0.015],[52.9807,0.011],[52.9808,0.004],[52.9809,0.013],[52.9810,0.009],[52.9811,0.016],[52.9812,0.007],[52.9813,0.012],[52.9814,0.010],[52.9815,0.014],[52.9816,0.006],[52.9817,0.003],[52.9818,0.011],[52.9819,0.008],
  [52.9820,0.015],[52.9821,0.010],[52.9822,0.013],[52.9823,0.006],[52.9824,0.012],[52.9825,0.009],[52.9826,0.016],[52.9827,0.007],[52.9828,0.011],[52.9829,0.014],[52.9830,0.008],[52.9831,0.012],[52.9832,0.005],[52.9833,0.016],[52.9834,0.010],[52.9835,0.013],[52.9836,0.007],[52.9837,0.015],[52.9838,0.011],[52.9839,0.009],[52.9840,0.014],[52.9841,0.006],[52.9842,0.012],[52.9843,0.009],[52.9844,0.015],[52.9845,0.008],[52.9846,0.011],[52.9847,0.013],[52.9848,0.006],[52.9849,0.010],[52.9850,0.008],[52.9851,0.012],[52.9852,0.005],[52.9853,0.012],[52.9854,0.009],[52.9855,0.006],[52.9856,0.011],[52.9857,0.008],[52.9858,0.013],[52.9859,0.005],[52.9860,0.010],[52.9861,0.007],[52.9862,0.012],[52.9863,0.009],[52.9864,0.006],[52.9865,0.011],[52.9866,0.008],[52.9867,0.013],[52.9868,0.005],[52.9869,0.010],
  [52.9870,0.007],[52.9871,0.012],[52.9872,0.009],[52.9873,0.006],[52.9874,0.011],[52.9875,0.014],[52.9876,0.008],[52.9877,0.010],[52.9878,0.005],[52.9879,0.012],[52.9880,0.009],[52.9881,0.007],[52.9882,0.013],[52.9883,0.010],[52.9884,0.006],[52.9885,0.011],[52.9886,0.008],[52.9887,0.013],[52.9888,0.010],[52.9889,0.005],[52.9890,0.012],[52.9891,0.009],[52.9892,0.007],[52.9893,0.013],[52.9894,0.010],[52.9895,0.006],[52.9896,0.011],[52.9897,0.008],[52.9898,0.014],[52.9899,0.010],[52.9900,0.006],[52.9901,0.012],[52.9902,0.009],[52.9903,0.004],[52.9904,0.011],[52.9905,0.008],[52.9906,0.013],[52.9907,0.006],[52.9908,0.010],[52.9909,0.012],[52.9910,0.007],[52.9911,0.011],[52.9912,0.009],[52.9913,0.014],[52.9914,0.006],[52.9915,0.010],[52.9916,0.013],[52.9917,0.008],[52.9918,0.011],[52.9919,0.005],
  [52.9920,0.012],[52.9921,0.009],[52.9922,0.014],[52.9923,0.007],[52.9924,0.011],[52.9925,0.010],[52.9926,0.013],[52.9927,0.006],[52.9928,0.012],[52.9929,0.009],[52.9930,0.015],[52.9931,0.008],[52.9932,0.011],[52.9933,0.013],[52.9934,0.007],[52.9935,0.010],[52.9936,0.014],[52.9937,0.009],[52.9938,0.016],[52.9939,0.006],[52.9940,0.012],[52.9941,0.010],[52.9942,0.014],[52.9943,0.008],[52.9944,0.011],[52.9945,0.013],[52.9946,0.004],[52.9947,0.010],[52.9948,0.012],[52.9949,0.007],[52.9950,0.011],[52.9951,0.014],[52.9952,0.009],[52.9953,0.006],[52.9954,0.012],[52.9955,0.010],[52.9956,0.013],[52.9957,0.003],[52.9958,0.009],[52.9959,0.011],[52.9960,0.007],[52.9961,0.012],[52.9962,0.010],[52.9963,0.014],[52.9964,0.005],[52.9965,0.011],[52.9966,0.008],[52.9967,0.013],[52.9968,0.010],[52.9969,0.006],
  [52.9970,0.012],[52.9971,0.009],[52.9972,0.014],[52.9973,-0.006],[52.9974,0.011],[52.9975,0.007],[52.9976,0.013],[52.9977,0.009],[52.9978,0.004],[52.9979,0.012],[52.9980,0.008],[52.9981,0.014],[52.9982,0.010],[52.9983,0.006],[52.9984,0.011],[52.9985,-0.006],[52.9986,0.013],[52.9987,0.008],[52.9988,0.002],[52.9989,0.011],[52.9990,0.006],[52.9991,0.014],[52.9992,0.009],[52.9993,0.004],[52.9994,0.012],[52.9995,0.008],
  [53.0007,0.079],[53.0023,0.070],[53.0003,0.061],[53.0008,0.045],[53.0016,0.048],[53.0022,0.050],[53.0010,0.033],[53.0022,0.037],[53.0000,0.027],[53.0004,0.023],[53.0010,0.021],[53.0018,0.020],[53.0024,0.021],[53.0009,0.015],[53.0019,0.014],[53.0007,0.005],[53.0017,0.004],[53.0025,-0.001],[53.0009,-0.004],[53.0012,-0.008],[53.0019,-0.007],[53.0018,-0.014],[53.0025,-0.013],[53.0027,-0.017],[53.0007,-0.023],[53.0016,-0.022],[53.0018,-0.030],[53.0007,-0.036],[53.0025,-0.037],[53.0018,-0.048],[53.0024,-0.047],[53.0021,-0.050],[53.0003,-0.067],[53.0015,-0.071],[53.0023,-0.073],[53.0013,-0.077],[53.0002,0.012],[53.0005,0.009],[53.0013,0.010],[53.0021,0.008],[53.0014,0.001],[53.0022,0.002],[53.0005,-0.002],[53.0020,-0.019],[53.0015,-0.005],[53.0001,0.018],[52.9998,0.008],[52.9996,0.004],[52.9997,0.013],
];

const panelData = [frontT5, rearT5, frontT28, rearT28];
const panelColors = ["#4169E1", "#FA8072", "#4169E1", "#FA8072"];

// layout (pixels)
const grids = [
  { left: 81, top: 28, width: 481, height: 269 },
  { left: 636, top: 31, width: 480, height: 268 },
  { left: 88, top: 349, width: 480, height: 270 },
  { left: 642, top: 352, width: 481, height: 269 },
];
const titlePos = [[321, 17], [877, 19.5], [328, 338.5], [882, 341]];
const letterPos = [[318, 277], [868, 279], [325, 600], [879, 603]];
const legendBox = [
  { x: 238.5, y: 34.5, w: 165, h: 20 },
  { x: 793.5, y: 36.5, w: 165, h: 20.5 },
  { x: 246, y: 356, w: 165, h: 20 },
  { x: 800.5, y: 358.5, w: 165, h: 20 },
];

const fmtY = (v: number) => (v < 0 ? "\u2212" : "") + Math.abs(v).toFixed(3);
const fmtX = (v: number) => v.toFixed(3);

export default function App() {
  const ref = useRef<HTMLDivElement>(null);
  useEffect(() => {
    if (!ref.current) return;
    const chart = echarts.init(ref.current, undefined, { renderer: "svg" });
    const textColor = "#222";
    const graphics: any[] = [];
    titles.forEach((t, i) => {
      graphics.push({
        type: "text",
        x: titlePos[i][0],
        y: titlePos[i][1],
        style: { text: t, fontSize: 14.5, fontFamily: FONT, fill: textColor, align: "center", verticalAlign: "middle" },
      });
      graphics.push({
        type: "text",
        x: letterPos[i][0],
        y: letterPos[i][1],
        style: { text: panelLetters[i], fontSize: 21, fontWeight: "bold", fontFamily: FONT, fill: "#111", align: "center", verticalAlign: "middle" },
        z: 10,
      });
      const b = legendBox[i];
      graphics.push({
        type: "group",
        z: 20,
        children: [
          { type: "rect", shape: { x: b.x, y: b.y, width: b.w, height: b.h, r: 2 }, style: { fill: "rgba(255,255,255,0.85)", stroke: "#d6d6d6", lineWidth: 1 } },
          { type: "line", shape: { x1: b.x + 6, y1: b.y + b.h / 2, x2: b.x + 30, y2: b.y + b.h / 2 }, style: { stroke: "#8B0000", lineWidth: 1.8, lineDash: [5.5, 2.5] } },
          { type: "text", x: b.x + 39, y: b.y + b.h / 2, style: { text: legendLabel, fontSize: 11.5, fontFamily: FONT, fill: textColor, align: "left", verticalAlign: "middle" } },
        ],
      });
    });

    const option: any = {
      animation: false,
      backgroundColor: "#ffffff",
      grid: grids.map((g) => ({
        ...g,
        show: true,
        borderColor: "#222",
        borderWidth: 1,
        backgroundColor: "transparent",
        containLabel: false,
        outerBoundsMode: "none",
      })),
      xAxis: grids.map((_, i) => ({
        type: "value",
        gridIndex: i,
        min: X_MIN,
        max: X_MAX,
        axisLine: { show: false },
        axisTick: { show: true, length: 4, lineStyle: { color: "#222", width: 1 }, customValues: xTicks },
        axisLabel: { customValues: xTicks, formatter: fmtX, fontSize: 11.5, color: textColor, fontFamily: FONT, margin: 6 },
        splitLine: { show: true, lineStyle: { color: "#c8c8c8", width: 1 } },
        name: i >= 2 ? xName : "",
        nameLocation: "middle",
        nameGap: 22,
        nameTextStyle: { fontSize: 14, fontFamily: FONT, color: textColor },
      })),
      yAxis: grids.map((_, i) => ({
        type: "value",
        gridIndex: i,
        min: Y_MIN,
        max: Y_MAX,
        axisLine: { show: false },
        axisTick: { show: true, length: 4, lineStyle: { color: "#222", width: 1 }, customValues: yTicks },
        axisLabel: { customValues: yTicks, formatter: fmtY, fontSize: 11.5, color: textColor, fontFamily: FONT, margin: 6 },
        splitLine: { show: true, lineStyle: { color: "#c8c8c8", width: 1 } },
        name: i % 2 === 0 ? yName : "",
        nameLocation: "middle",
        nameRotate: 90,
        nameGap: i === 0 ? 57 : 59,
        nameTextStyle: { fontSize: 14, fontFamily: FONT, color: textColor },
      })),
      series: panelData.map((d, i) => ({
        type: "scatter",
        xAxisIndex: i,
        yAxisIndex: i,
        data: d,
        symbolSize: 7.6,
        itemStyle: { color: panelColors[i], opacity: 1 },
        silent: true,
        markLine: {
          silent: true,
          precision: 6,
          symbol: ["none", "none"],
          label: { show: false },
          lineStyle: { color: "#8B0000", type: [5.5, 2.5], width: 1.8 },
          data: [{ yAxis: averages[i] }],
        },
      })),
      graphic: graphics,
    };
    chart.setOption(option);
    return () => chart.dispose();
  }, []);
  return (
    <div
      ref={ref}
      style={{ position: "fixed", left: 0, top: 0, width: 1141, height: 661, background: "#fff" }}
    />
  );
}
